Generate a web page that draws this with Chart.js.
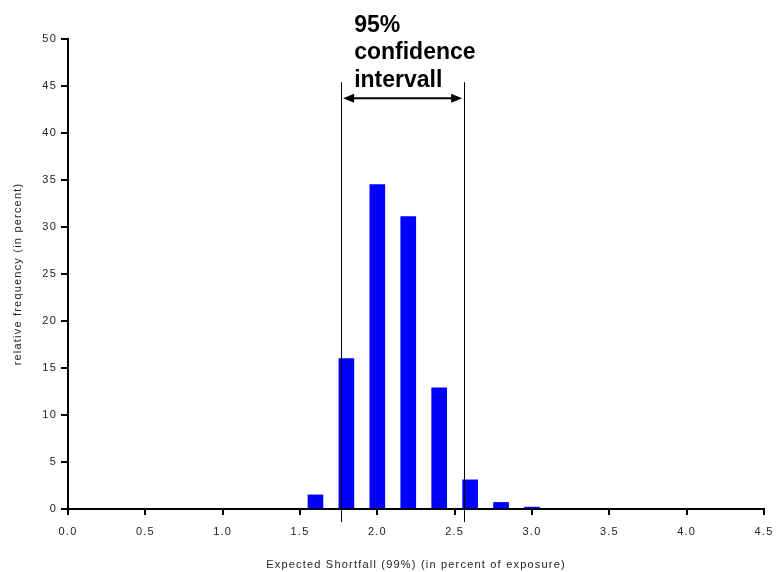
<!DOCTYPE html>
<html>
<head>
<meta charset="utf-8">
<script src="https://cdn.jsdelivr.net/npm/chart.js@4"></script>
<style>
html,body{margin:0;padding:0;background:#fff;}
#wrap{width:776px;height:572px;position:relative;}
</style>
</head>
<body>
<div id="wrap"><canvas id="c" width="776" height="572"></canvas></div>
<script>
// Data
const binCenters = [1.6, 1.8, 2.0, 2.2, 2.4, 2.6, 2.8, 3.0];
const frequencies = [1.5, 16.0, 34.5, 31.1, 12.9, 3.1, 0.7, 0.2];
const ciLow = 1.766;
const ciHigh = 2.561;
const ciLineTop = 45.4;
const ciArrowLevel = 43.7;
const ciLabel = ["95%", "confidence", "intervall"];
const xTitle = "Expected Shortfall (99%) (in percent of exposure)";
const yTitle = "relative frequency (in percent)";

const points = binCenters.map((x, i) => ({x: x, y: frequencies[i]}));

const spacingPlugin = {
  id: 'spacing',
  beforeDraw(chart) { chart.ctx.letterSpacing = '1.2px'; },
  afterDraw(chart) { chart.ctx.letterSpacing = '0px'; }
};

const ciPlugin = {
  id: 'ci',
  afterDatasetsDraw(chart) {
    const {ctx, scales: {x, y}} = chart;
    const xl = x.getPixelForValue(ciLow);
    const xr = x.getPixelForValue(ciHigh);
    const yt = y.getPixelForValue(ciLineTop);
    const yb = y.bottom + 13;
    const ya = y.getPixelForValue(ciArrowLevel);
    ctx.save();
    ctx.letterSpacing = '0px';
    ctx.strokeStyle = '#000';
    ctx.lineWidth = 1;
    ctx.beginPath();
    ctx.moveTo(Math.round(xl) + 0.5, yt); ctx.lineTo(Math.round(xl) + 0.5, yb);
    ctx.moveTo(Math.round(xr) + 0.5, yt); ctx.lineTo(Math.round(xr) + 0.5, yb);
    ctx.stroke();
    // arrow
    const a0 = xl + 2, a1 = xr - 2;
    ctx.lineWidth = 2;
    ctx.beginPath();
    ctx.moveTo(a0 + 6, ya); ctx.lineTo(a1 - 6, ya);
    ctx.stroke();
    ctx.fillStyle = '#000';
    ctx.beginPath();
    ctx.moveTo(a0, ya); ctx.lineTo(a0 + 11, ya - 4.5); ctx.lineTo(a0 + 11, ya + 4.5); ctx.closePath();
    ctx.fill();
    ctx.beginPath();
    ctx.moveTo(a1, ya); ctx.lineTo(a1 - 11, ya - 4.5); ctx.lineTo(a1 - 11, ya + 4.5); ctx.closePath();
    ctx.fill();
    // label
    ctx.font = 'bold 23px "Liberation Sans", Arial, sans-serif';
    ctx.textAlign = 'left';
    ctx.textBaseline = 'alphabetic';
    const tx = xl + 13;
    const base = ya - 11;
    for (let i = 0; i < ciLabel.length; i++) {
      ctx.fillText(ciLabel[i], tx, base - (ciLabel.length - 1 - i) * 27.8);
    }
    ctx.restore();
  }
};

const tickFont = {family: '"Liberation Sans", Arial, sans-serif', size: 11};
const xTickFont = {family: '"Liberation Sans", Arial, sans-serif', size: 11, lineHeight: 2.65};

new Chart(document.getElementById('c'), {
  type: 'bar',
  data: {
    datasets: [{
      data: points,
      backgroundColor: '#0000ff',
      borderWidth: 0,
      barThickness: 15
    }]
  },
  options: {
    responsive: false,
    animation: false,
    events: [],
    layout: {padding: {top: 39, right: 12, left: 0, bottom: 0}},
    plugins: {legend: {display: false}, tooltip: {enabled: false}},
    scales: {
      x: {
        type: 'linear',
        min: 0, max: 4.5,
        offset: false,
        grid: {display: true, offset: false, drawOnChartArea: false, drawTicks: true, tickLength: 6, color: '#000', lineWidth: 2},
        border: {display: true, color: '#000', width: 2},
        ticks: {stepSize: 0.5, color: '#222', font: xTickFont, padding: 2, maxRotation: 0,
                callback: v => Number(v).toFixed(1)},
        title: {display: true, text: xTitle, color: '#222', font: tickFont, padding: {top: 4, bottom: 0}},
        afterFit: s => { s.height = 63; }
      },
      y: {
        min: 0, max: 50,
        grid: {display: true, offset: false, drawOnChartArea: false, drawTicks: true, tickLength: 7, color: '#000', lineWidth: 2},
        border: {display: true, color: '#000', width: 2},
        ticks: {stepSize: 5, color: '#222', font: tickFont, padding: 4},
        title: {display: true, text: yTitle, color: '#222', font: tickFont, padding: {top: 11, bottom: 0}},
        afterFit: s => { s.width = 68; }
      }
    }
  },
  plugins: [spacingPlugin, ciPlugin]
});
</script>
</body>
</html>
